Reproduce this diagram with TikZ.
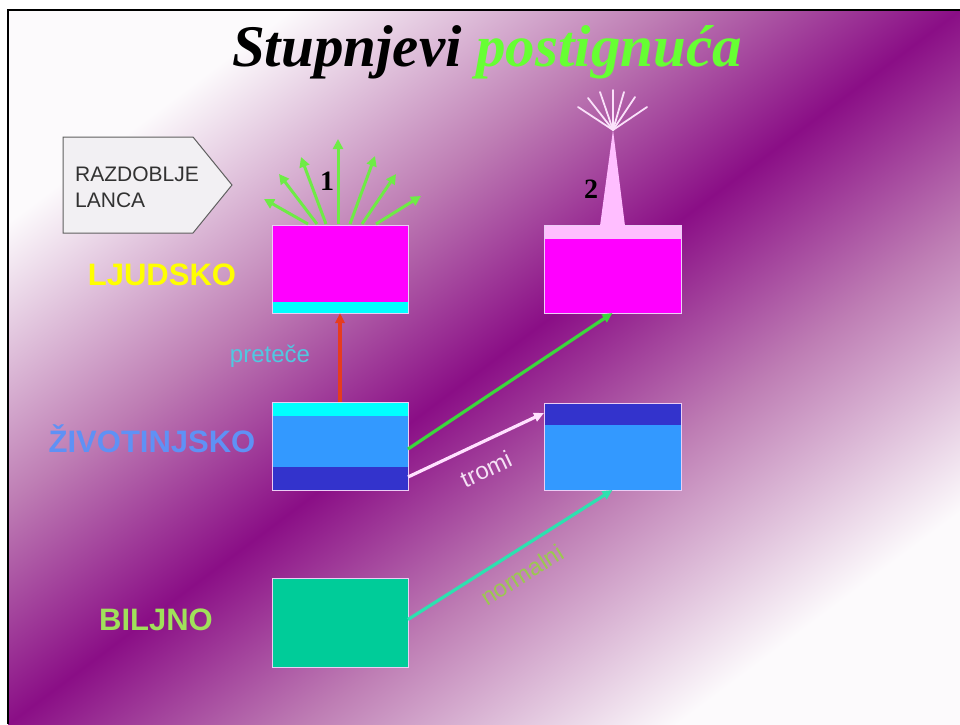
\documentclass[tikz,border=0pt]{standalone}
\usepackage{fontspec}
\setmainfont{Liberation Serif}
\newfontfamily\arialf{Liberation Sans}
\usetikzlibrary{arrows.meta,calc}
\definecolor{bgw}{RGB}{252,250,252}
\definecolor{bgm}{RGB}{190,125,180}
\definecolor{bgp}{RGB}{138,14,134}
\definecolor{magbox}{RGB}{255,0,255}
\definecolor{cyanbox}{RGB}{0,255,255}
\definecolor{bluebox}{RGB}{51,153,255}
\definecolor{dbluebox}{RGB}{51,51,204}
\definecolor{greenbox}{RGB}{0,204,153}
\definecolor{pinkstrip}{RGB}{255,190,255}
\definecolor{fanline}{RGB}{250,225,250}
\definecolor{fangreen}{RGB}{110,235,70}
\definecolor{titlegreen}{RGB}{102,255,51}
\definecolor{boxedge}{RGB}{235,205,245}
\definecolor{redarrow}{RGB}{230,60,30}
\definecolor{greenarrow}{RGB}{60,215,60}
\definecolor{whitearrow}{RGB}{255,225,255}
\definecolor{tealarrow}{RGB}{45,225,175}
\definecolor{ljudc}{RGB}{255,255,0}
\definecolor{zivc}{RGB}{95,145,245}
\definecolor{biljc}{RGB}{160,225,90}
\definecolor{pretc}{RGB}{80,200,225}
\definecolor{tromic}{RGB}{245,225,245}
\definecolor{normc}{RGB}{155,200,80}
\definecolor{labelgray}{RGB}{50,50,50}
\definecolor{pentfill}{RGB}{242,240,243}
\definecolor{pentedge}{RGB}{95,95,95}
\pgfdeclareverticalshading{bgshade}{100bp}{color(0bp)=(bgw); color(25bp)=(bgw); color(39bp)=(bgm); color(50bp)=(bgp); color(61bp)=(bgm); color(75bp)=(bgw); color(100bp)=(bgw)}
\tikzset{
  boxnode/.style={draw=boxedge, line width=0.8pt, rectangle, inner sep=0pt, outer sep=0pt, anchor=north west},
  conn/.style={line width=3.2pt, -{Triangle[length=10pt,width=9pt]}},
  fanarrow/.style={fangreen, line width=3pt, -{Triangle[length=10pt,width=10pt]}},
  fanray/.style={fanline, line width=1.8pt, line cap=round},
  levellabel/.style={font=\arialf\bfseries\fontsize{31}{31}\selectfont, inner sep=0pt, anchor=base},
  smalllabel/.style={font=\arialf\fontsize{24}{24}\selectfont, inner sep=0pt},
  numlabel/.style={font=\bfseries\fontsize{28}{28}\selectfont, inner sep=0pt, anchor=base}
}
\begin{document}
\begin{tikzpicture}[x=1pt,y=-1pt]
\useasboundingbox (0,0) rectangle (960,724);
\fill[white] (0,0) rectangle (960,724);
% background gradient: a square shading stretched horizontally so the purple ridge runs corner to corner
\begin{scope}[transform canvas={xscale=1.3333333}]
\shade[shading=bgshade, shading angle=45] (6,10) rectangle (720,724);
\end{scope}
% frame
\draw[black, line width=2.5pt, line join=miter] (960,10) -- (8,10) -- (8,724);

% title
\node[anchor=base, inner sep=0pt] (title) at (487,66) {\fontsize{59}{59}\selectfont\bfseries\itshape Stupnjevi \textcolor{titlegreen}{postignuća}};

% period pentagon
\draw[fill=pentfill, draw=pentedge, line width=1pt] (63,137) -- (193,137) -- (232,185) -- (193,233) -- (63,233) -- cycle;
\node[anchor=north west, align=left, inner sep=0pt, text=labelgray, font=\arialf\fontsize{21}{25.6}\selectfont] (period) at (75,167) {RAZDOBLJE\\LANCA};

% level labels
\node[levellabel, text=ljudc] (ljud) at (162,285) {LJUDSKO};
\node[levellabel, text=zivc] (ziv) at (152,452) {ŽIVOTINJSKO};
\node[levellabel, text=biljc] (bilj) at (156,630) {BILJNO};

% box fills
\fill[magbox] (272,225) rectangle (408,302);
\fill[cyanbox] (272,302) rectangle (408,313);
\fill[pinkstrip] (544,225) rectangle (681,239);
\fill[magbox] (544,239) rectangle (681,313);
\fill[cyanbox] (272,402) rectangle (408,416);
\fill[bluebox] (272,416) rectangle (408,467);
\fill[dbluebox] (272,467) rectangle (408,490);
\fill[dbluebox] (544,403) rectangle (681,425);
\fill[bluebox] (544,425) rectangle (681,490);
\fill[greenbox] (272,578) rectangle (408,667);

% box outlines (named nodes)
\node[boxnode, minimum width=136pt, minimum height=88pt] (L1) at (272,225) {};
\node[boxnode, minimum width=137pt, minimum height=88pt] (L2) at (544,225) {};
\node[boxnode, minimum width=136pt, minimum height=88pt] (Z1) at (272,402) {};
\node[boxnode, minimum width=137pt, minimum height=87pt] (Z2) at (544,403) {};
\node[boxnode, minimum width=136pt, minimum height=89pt] (B1) at (272,578) {};

% green fan of arrows above box 1
\coordinate (h1) at (264,199);
\coordinate (h2) at (279,174);
\coordinate (h3) at (301,157);
\coordinate (h4) at (338,139);
\coordinate (h5) at (375,156);
\coordinate (h6) at (396,174);
\coordinate (h7) at (421,196);
\draw[fanarrow] ($(L1.north west)+(36,-1)$) -- (h1);
\draw[fanarrow] ($(L1.north west)+(45,-1)$) -- (h2);
\draw[fanarrow] ($(L1.north west)+(54,-1)$) -- (h3);
\draw[fanarrow] ($(L1.north west)+(66,-1)$) -- (h4);
\draw[fanarrow] ($(L1.north west)+(78,-1)$) -- (h5);
\draw[fanarrow] ($(L1.north west)+(90,-1)$) -- (h6);
\draw[fanarrow] ($(L1.north west)+(104,-1)$) -- (h7);
\node[numlabel] (n1) at (327,190) {1};

% pink spike with ray fan above box 2
\coordinate (apex) at (613,130);
\fill[pinkstrip] ($(L2.north west)+(56,1)$) -- (apex) -- ($(L2.north west)+(81,1)$) -- cycle;
\coordinate (r1) at (578,107);
\coordinate (r2) at (588,98);
\coordinate (r3) at (600,92);
\coordinate (r4) at (613,90);
\coordinate (r5) at (624,92);
\coordinate (r6) at (635,97);
\coordinate (r7) at (647,107);
\foreach \r in {r1,r2,r3,r4,r5,r6,r7} \draw[fanray] (apex) -- (\r);
\node[numlabel] (n2) at (591,198) {2};

% connectors
\draw[conn, redarrow] (Z1.north) -- (L1.south);
\draw[conn, greenarrow] ($(Z1.east)+(0,3)$) -- (L2.south);
\draw[conn, whitearrow] ($(Z1.south east)+(0,-13)$) -- ($(Z2.north west)+(0,10)$);
\draw[conn, tealarrow] ($(B1.east)+(0,-3)$) -- (Z2.south);

% connector labels
\node[smalllabel, text=pretc, anchor=base] (pret) at (270,362) {preteče};
\node[smalllabel, text=tromic, rotate=25] (tromi) at (486,469) {tromi};
\node[smalllabel, text=normc, rotate=32] (norm) at (522,575) {normalni};
\end{tikzpicture}
\end{document}
